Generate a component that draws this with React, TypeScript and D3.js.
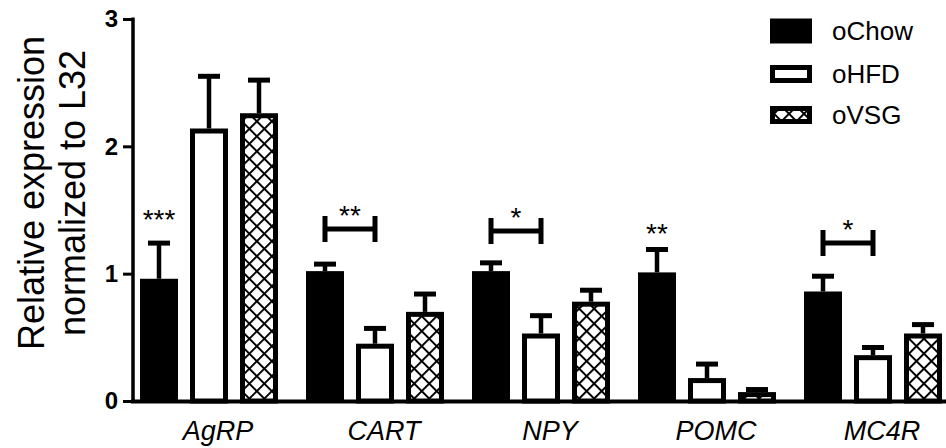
import React, { useEffect, useRef } from 'react';
import * as d3 from 'd3';

const categories = ['AgRP', 'CART', 'NPY', 'POMC', 'MC4R'];
const seriesNames = ['oChow', 'oHFD', 'oVSG'];
const chowMean = [0.96, 1.02, 1.02, 1.01, 0.86];
const chowSem = [0.28, 0.055, 0.065, 0.18, 0.12];
const hfdMean = [2.14, 0.45, 0.53, 0.18, 0.36];
const hfdSem = [0.41, 0.12, 0.14, 0.11, 0.06];
const vsgMean = [2.26, 0.7, 0.78, 0.07, 0.53];
const vsgSem = [0.26, 0.14, 0.09, 0.02, 0.07];
const yTicks = [0, 1, 2, 3];
// significance marks: bracket between oChow and oHFD, or stars over oChow alone
const bracketLevel = [null, 1.35, 1.335, null, 1.24];
const bracketStars = ['', '**', '*', '', '*'];
const singleLevel = [1.48, null, null, 1.37, null];
const singleStars = ['***', '', '', '**', ''];

const W = 946;
const H = 448;
const FONT = 'Liberation Sans, Arial, Helvetica, sans-serif';

export default function App() {
  const ref = useRef<SVGSVGElement>(null);

  useEffect(() => {
    const svg = d3.select(ref.current);
    svg.selectAll('*').remove();

    const x0 = d3.scaleBand().domain(categories).range([126, 126 + 166 * 5]);
    const x1 = d3.scaleBand().domain(seriesNames).range([14, 152]).paddingInner(0.24);
    const y = d3.scaleLinear().domain([0, 3]).range([401, 19]);
    const bw = x1.bandwidth();

    const tile = 10.6;
    const defs = svg.append('defs');
    const pat = defs
      .append('pattern')
      .attr('id', 'hatch')
      .attr('patternUnits', 'userSpaceOnUse')
      .attr('width', tile)
      .attr('height', tile)
      .attr('patternTransform', 'translate(2,0) rotate(45)');
    pat.append('rect').attr('width', tile).attr('height', tile).attr('fill', '#fff');
    pat
      .append('path')
      .attr('d', `M0,0H${tile}M0,0V${tile}`)
      .attr('stroke', '#000')
      .attr('stroke-width', 4);

    const means = [chowMean, hfdMean, vsgMean];
    const sems = [chowSem, hfdSem, vsgSem];
    const bars = seriesNames.flatMap((s, si) =>
      categories.map((c, ci) => ({ s, si, c, v: means[si][ci], e: sems[si][ci] }))
    );

    const g = svg.append('g');

    // error bars (upper only)
    bars.forEach((d) => {
      const cx = x0(d.c)! + x1(d.s)! + bw / 2;
      g.append('line')
        .attr('x1', cx).attr('x2', cx)
        .attr('y1', y(d.v)).attr('y2', y(d.v + d.e))
        .attr('stroke', '#000').attr('stroke-width', 4.5);
      g.append('line')
        .attr('x1', cx - 11).attr('x2', cx + 11)
        .attr('y1', y(d.v + d.e)).attr('y2', y(d.v + d.e))
        .attr('stroke', '#000').attr('stroke-width', 5);
    });

    // bars
    bars.forEach((d) => {
      const x = x0(d.c)! + x1(d.s)!;
      if (d.si === 0) {
        g.append('rect')
          .attr('x', x).attr('y', y(d.v))
          .attr('width', bw).attr('height', y(0) - y(d.v))
          .attr('fill', '#000');
      } else {
        g.append('rect')
          .attr('x', x + 2.5).attr('y', y(d.v) + 2.5)
          .attr('width', bw - 5).attr('height', Math.max(0, y(0) - y(d.v) - 2.5))
          .attr('fill', d.si === 1 ? '#fff' : 'url(#hatch)')
          .attr('stroke', '#000').attr('stroke-width', 5);
      }
    });

    // axes
    const yAxis = d3.axisLeft(y).tickValues(yTicks).tickFormat(d3.format('d')).tickSize(10).tickPadding(5);
    const ya = svg.append('g').attr('transform', 'translate(133,0)').call(yAxis);
    ya.select('.domain').attr('stroke-width', 3.5).attr('d', 'M0,17.5V402');
    ya.selectAll('.tick line').attr('stroke-width', 3);
    ya.selectAll('.tick text')
      .attr('font-family', FONT).attr('font-size', 24).attr('font-weight', 'bold').attr('fill', '#000');

    svg.append('line')
      .attr('x1', 131).attr('x2', W)
      .attr('y1', y(0) + 0.5).attr('y2', y(0) + 0.5)
      .attr('stroke', '#000').attr('stroke-width', 4);

    // category labels
    svg.append('g')
      .selectAll('text')
      .data(categories)
      .join('text')
      .attr('x', (c) => x0(c)! + x1('oHFD')! + bw / 2 + 9)
      .attr('y', 440)
      .attr('text-anchor', 'middle')
      .attr('font-family', FONT).attr('font-size', 27).attr('font-style', 'italic')
      .text((c) => c);

    // significance
    categories.forEach((c, i) => {
      const cChow = x0(c)! + x1('oChow')! + bw / 2;
      const cHfd = x0(c)! + x1('oHFD')! + bw / 2;
      const bl = bracketLevel[i];
      if (bl != null) {
        const by = y(bl);
        svg.append('path')
          .attr('d', `M${cChow},${by - 13}V${by + 13}M${cChow},${by}H${cHfd}M${cHfd},${by - 13}V${by + 13}`)
          .attr('stroke', '#000').attr('stroke-width', 5).attr('fill', 'none');
        svg.append('text')
          .attr('x', (cChow + cHfd) / 2).attr('y', by - 4)
          .attr('text-anchor', 'middle')
          .attr('font-family', FONT).attr('font-size', 28)
          .text(bracketStars[i]);
      }
      const sl = singleLevel[i];
      if (sl != null) {
        svg.append('text')
          .attr('x', cChow).attr('y', y(sl) + 16)
          .attr('text-anchor', 'middle')
          .attr('font-family', FONT).attr('font-size', 28)
          .text(singleStars[i]);
      }
    });

    // y title
    const t = svg.append('g').attr('font-family', FONT).attr('font-size', 36).attr('text-anchor', 'middle');
    t.append('text').attr('transform', 'translate(44,193) rotate(-90)').text('Relative expression');
    t.append('text').attr('transform', 'translate(85,193) rotate(-90)').text('normalized to L32');

    // legend
    const legY = [31, 74, 115];
    const lg = svg.append('g');
    seriesNames.forEach((s, i) => {
      if (i === 0) {
        lg.append('rect').attr('x', 770).attr('y', legY[i] - 12.5).attr('width', 42).attr('height', 25).attr('fill', '#000');
      } else {
        lg.append('rect')
          .attr('x', 772.5).attr('y', legY[i] - 6.5).attr('width', 37).attr('height', 13)
          .attr('fill', i === 1 ? '#fff' : 'url(#hatch)')
          .attr('stroke', '#000').attr('stroke-width', 5);
      }
      lg.append('text')
        .attr('x', 832).attr('y', legY[i]).attr('dy', '0.36em')
        .attr('font-family', FONT).attr('font-size', 26)
        .text(s);
    });
  }, []);

  return (
    <div style={{ position: 'absolute', left: 0, top: 0, background: '#fff' }}>
      <svg ref={ref} width={W} height={H} style={{ display: 'block' }} />
    </div>
  );
}
